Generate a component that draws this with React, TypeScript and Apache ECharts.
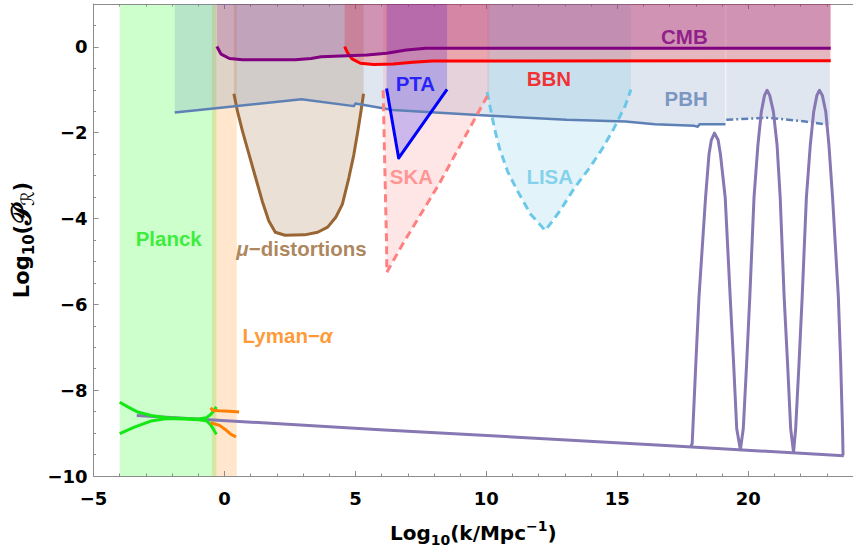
import React, { useEffect, useRef } from "react";
import * as echarts from "echarts";

// Axis ranges and tick spacing
const X_RANGE = [-5, 24];
const Y_RANGE = [-10, 1];
const X_STEP = 5;
const Y_STEP = 2;

// Vertical bands (full height): [from, to] in log10 k
const planckBand = [-4.0, -0.31];
const lymanBand = [-0.48, 0.47];

// Upper-bound curves (shaded up to the top of the frame)
const cmbCurve = [
  [-0.29, 0.01], [-0.13, -0.17], [0.19, -0.27], [0.69, -0.3], [1.69, -0.3],
  [2.69, -0.3], [3.31, -0.27], [3.69, -0.23], [4.44, -0.21], [5.44, -0.19],
  [6.19, -0.15], [6.94, -0.07], [7.69, -0.03], [8.94, -0.03], [23.15, -0.03],
];
const bbnCurve = [
  [4.59, 0.01], [4.69, -0.13], [4.87, -0.28], [5.19, -0.38], [5.69, -0.41],
  [6.44, -0.4], [7.19, -0.36], [7.94, -0.33], [8.94, -0.33], [23.15, -0.32],
];
const pbhCurve = [
  [-1.9, -1.53], [-0.06, -1.41], [2.94, -1.22], [4.94, -1.38], [5.0, -1.32],
  [6.43, -1.47], [10.0, -1.6], [13.06, -1.7], [15.31, -1.74], [16.43, -1.8],
  [17.94, -1.84], [18.07, -1.86], [18.15, -1.8], [19.13, -1.8],
];
const pbhProjected = [
  [19.16, -1.7], [20.81, -1.65], [22.18, -1.74], [23.12, -1.82],
];
const muCurve = [
  [0.36, -1.09], [0.5, -1.51], [0.69, -1.97], [0.94, -2.51], [1.19, -3.05],
  [1.44, -3.59], [1.69, -4.05], [1.94, -4.32], [2.31, -4.39], [3.06, -4.38],
  [3.56, -4.32], [3.94, -4.2], [4.25, -3.97], [4.5, -3.67], [4.75, -3.05],
  [4.94, -2.51], [5.09, -1.97], [5.21, -1.51], [5.31, -1.09],
];
const ptaCurve = [[6.19, -0.97], [6.65, -2.59], [8.5, -0.99]];
const skaCurve = [[6.06, -1.01], [6.12, -2.74], [6.19, -4.59], [6.2, -5.25], [6.81, -4.59], [8.19, -3.2], [10.12, -1.05]];
const lisaCurve = [
  [10.03, -1.05], [10.18, -1.51], [10.31, -1.9], [10.5, -2.36], [10.81, -2.9],
  [11.19, -3.36], [11.69, -3.9], [12.25, -4.28], [12.81, -3.82], [13.37, -3.28],
  [13.94, -2.82], [14.44, -2.36], [14.87, -1.9], [15.31, -1.36], [15.52, -0.99],
];

// Curvature power spectrum: power-law baseline and the peaked spectrum
const spectrumBase = [[-3.35, -8.59], [5.94, -8.92], [17.19, -9.3], [23.65, -9.53]];
const spectrumPeaks = [
  [17.81, -9.32], [17.86, -9.24], [18.0, -7.36], [18.12, -5.82], [18.37, -3.51],
  [18.5, -2.51], [18.59, -2.17], [18.71, -2.01], [18.85, -2.17], [18.94, -2.51],
  [19.12, -3.51], [19.31, -5.82], [19.44, -7.36], [19.56, -8.9], [19.7, -9.39],
  [19.81, -8.9], [19.94, -7.36], [20.06, -5.82], [20.22, -3.51], [20.37, -2.28],
  [20.5, -1.51], [20.62, -1.13], [20.72, -1.01], [20.82, -1.13], [20.96, -1.51],
  [21.1, -2.28], [21.22, -3.51], [21.37, -5.82], [21.5, -7.36], [21.62, -8.9],
  [21.73, -9.45], [21.81, -8.9], [21.94, -7.36], [22.06, -5.82], [22.22, -3.51],
  [22.37, -2.28], [22.5, -1.51], [22.62, -1.13], [22.72, -1.01], [22.83, -1.13],
  [22.96, -1.51], [23.08, -2.28], [23.22, -3.51], [23.44, -5.82], [23.53, -7.36],
  [23.6, -8.9], [23.62, -9.52],
];

// Planck and Lyman-alpha reconstructions
const planckUpper = [
  [-4.0, -8.28], [-3.69, -8.39], [-3.31, -8.51], [-2.81, -8.59], [-2.19, -8.64],
  [-1.56, -8.66], [-1.0, -8.67], [-0.69, -8.64], [-0.55, -8.58], [-0.44, -8.51], [-0.31, -8.39],
];
const planckLower = [
  [-4.0, -9.01], [-3.44, -8.86], [-2.81, -8.72], [-2.19, -8.66], [-1.56, -8.67],
  [-1.0, -8.69], [-0.69, -8.71], [-0.55, -8.79], [-0.44, -8.89], [-0.31, -9.03],
];
const lymanUpper = [[-0.53, -8.41], [-0.45, -8.47], [-0.2, -8.48], [0.2, -8.49], [0.56, -8.51]];
const lymanLower = [[-0.53, -8.76], [-0.19, -8.82], [0.06, -8.93], [0.25, -9.03], [0.44, -9.09]];

// Region labels
const labelNames = ["CMB", "BBN", "PBH", "PTA", "SKA", "LISA", "μ-distortions", "Planck", "Lyman-α"];
const labelX = [17.56, 12.39, 17.63, 7.29, 7.14, 12.42, 2.94, -2.13, 2.41];
const labelY = [0.25, -0.74, -1.2, -0.85, -3.03, -3.03, -4.69, -4.46, -6.72];

const C = {
  cmb: "rgb(128,0,128)",
  bbn: "rgb(255,0,0)",
  pbh: "rgb(94,129,181)",
  pta: "rgb(0,0,255)",
  ska: "rgb(255,128,128)",
  lisa: "rgb(108,200,232)",
  mu: "rgb(153,102,51)",
  planck: "rgb(0,255,0)",
  planckLine: "rgb(20,232,20)",
  lyman: "rgb(255,128,0)",
  spectrum: "rgb(135,120,179)",
};
const fill = (rgb: string, a = 0.2) => rgb.replace("rgb(", "rgba(").replace(")", `,${a})`);
const labelColors = [C.cmb, C.bbn, C.pbh, C.pta, C.ska, C.lisa, C.mu, C.planckLine, C.lyman];

const FONT = "'Liberation Sans', Arial, sans-serif";
const AXIS_FONT = "'DejaVu Sans', Verdana, sans-serif";
const FRAME = "#8c8c8c";

const minusFmt = (v: number) => (v < 0 ? "\u2212" + Math.abs(v) : String(v));

const fillUp = (data: number[][], rgb: string, z = 1) => ({
  type: "line",
  data,
  symbol: "none",
  silent: true,
  z,
  lineStyle: { width: 0 },
  areaStyle: { color: fill(rgb), opacity: 1, origin: "end" },
});

const band = (range: number[], rgb: string) => ({
  type: "line",
  data: [[range[0], Y_RANGE[1]], [range[1], Y_RANGE[1]]],
  symbol: "none",
  silent: true,
  z: 0,
  lineStyle: { width: 0 },
  areaStyle: { color: fill(rgb), opacity: 1, origin: "start" },
});

const stroke = (data: number[][], color: string, width = 3, type: any = "solid", z = 5) => ({
  type: "line",
  data,
  symbol: "none",
  silent: true,
  z,
  lineStyle: { color, width, type, cap: "butt", join: "round" },
});

const richLabel = (name: string) => {
  if (name === "μ-distortions") return "{i|μ}{n|\u2212distortions}";
  if (name === "Lyman-α") return "{n|Lyman\u2212}{i|α}";
  return "{n|" + name + "}";
};

const titleRich = {
  a: { fontSize: 20, fontWeight: "bold", fontFamily: AXIS_FONT, color: "#000", lineHeight: 28 },
  s: { fontSize: 14, fontWeight: "bold", fontFamily: AXIS_FONT, color: "#000", lineHeight: 14, verticalAlign: "bottom" },
  p: { fontSize: 14, fontWeight: "bold", fontFamily: AXIS_FONT, color: "#000", lineHeight: 17, verticalAlign: "top" },
};
const yTitleRich = {
  a: { fontSize: 21, fontWeight: "bold", fontFamily: AXIS_FONT, color: "#000", lineHeight: 30 },
  s: { fontSize: 15, fontWeight: "bold", fontFamily: AXIS_FONT, color: "#000", lineHeight: 15, verticalAlign: "bottom" },
  P: { fontSize: 27, fontWeight: "bold", fontFamily: AXIS_FONT, color: "#000", lineHeight: 30 },
  r: { fontSize: 18, fontFamily: AXIS_FONT, color: "#000", lineHeight: 16, verticalAlign: "bottom" },
};

export default function App() {
  const ref = useRef<HTMLDivElement>(null);

  useEffect(() => {
    if (!ref.current) return;
    const chart = echarts.init(ref.current, undefined, { renderer: "svg" });

    const labelData = labelNames.map((name, i) => ({
      value: [labelX[i], labelY[i], name],
      label: {
        color: labelColors[i],
        rich: {
          n: { color: labelColors[i], fontSize: 20.5, fontWeight: "bold", fontFamily: FONT },
          i: { color: labelColors[i], fontSize: 20.5, fontWeight: "bold", fontStyle: "italic", fontFamily: FONT },
        },
      },
    }));

    const axisBase = {
      type: "value",
      splitLine: { show: false },
      axisLine: { show: true, onZero: false, lineStyle: { color: FRAME, width: 1 } },
      axisTick: { show: true, inside: true, length: 5, lineStyle: { color: FRAME } },
    };
    const tickLabel = {
      formatter: minusFmt,
      fontSize: 18,
      fontWeight: "bold",
      fontFamily: AXIS_FONT,
      color: "#000",
      showMaxLabel: false,
    };

    chart.setOption({
      animation: false,
      backgroundColor: "#ffffff",
      grid: { left: 88, right: -8.5, top: 4, bottom: 71, containLabel: false },
      xAxis: [
        {
          ...axisBase,
          position: "bottom",
          min: X_RANGE[0],
          max: X_RANGE[1],
          interval: X_STEP,
          minorTick: { show: true, splitNumber: 5, length: 2.5, lineStyle: { color: FRAME } },
          axisLabel: { ...tickLabel, margin: 13 },
          name: "{a|Log}{s|10}{a|(k/Mpc}{p|\u22121}{a|)}",
          nameLocation: "middle",
          nameGap: 43,
          nameTextStyle: { rich: titleRich },
        },
        {
          ...axisBase,
          position: "top",
          min: X_RANGE[0],
          max: X_RANGE[1],
          interval: X_STEP,
          minorTick: { show: true, splitNumber: 5, length: 2.5, lineStyle: { color: FRAME } },
          axisLabel: { show: false },
        },
      ],
      yAxis: [
        {
          ...axisBase,
          position: "left",
          min: Y_RANGE[0],
          max: Y_RANGE[1],
          interval: Y_STEP,
          minorTick: { show: true, splitNumber: 4, length: 2.5, lineStyle: { color: FRAME } },
          axisLabel: { ...tickLabel, margin: 6 },
          name: "{a|Log}{s|10}{a|(}{P|𝒫}{r|ℛ}{a|)}",
          nameLocation: "middle",
          nameRotate: 90,
          nameGap: 48,
          nameTextStyle: { rich: yTitleRich },
        },
      ],
      series: [
        band(planckBand, C.planck),
        band(lymanBand, C.lyman),
        fillUp(pbhCurve, C.pbh),
        fillUp(pbhProjected, C.pbh),
        fillUp(muCurve, C.mu),
        fillUp(lisaCurve, C.lisa),
        fillUp(skaCurve, C.ska),
        fillUp(ptaCurve, C.pta),
        fillUp(bbnCurve, C.bbn),
        fillUp(cmbCurve, C.cmb),
        stroke(muCurve, C.mu, 3),
        stroke(pbhCurve, C.pbh, 2.5),
        stroke(pbhProjected, C.pbh, 2.5, [7, 3, 2, 3]),
        stroke(lisaCurve, C.lisa, 3, [8, 5]),
        stroke(skaCurve, C.ska, 3, [8, 5]),
        stroke(ptaCurve, C.pta, 3),
        stroke(bbnCurve, C.bbn, 3),
        stroke(cmbCurve, C.cmb, 3),
        stroke(spectrumBase, C.spectrum, 3, "solid", 6),
        stroke(spectrumPeaks, C.spectrum, 3, "solid", 6),
        stroke(planckUpper, C.planckLine, 3, "solid", 7),
        stroke(planckLower, C.planckLine, 3, "solid", 7),
        stroke(lymanUpper, C.lyman, 3, "solid", 7),
        stroke(lymanLower, C.lyman, 3, "solid", 7),
        {
          type: "scatter",
          data: labelData,
          symbolSize: 0,
          silent: true,
          z: 10,
          label: {
            show: true,
            position: "inside",
            formatter: (p: any) => richLabel(p.value[2]),
          },
        },
      ],
    });

    return () => chart.dispose();
  }, []);

  return (
    <div
      ref={ref}
      style={{ position: "fixed", left: 0, top: 0, width: 853, height: 552, background: "#fff" }}
    />
  );
}
